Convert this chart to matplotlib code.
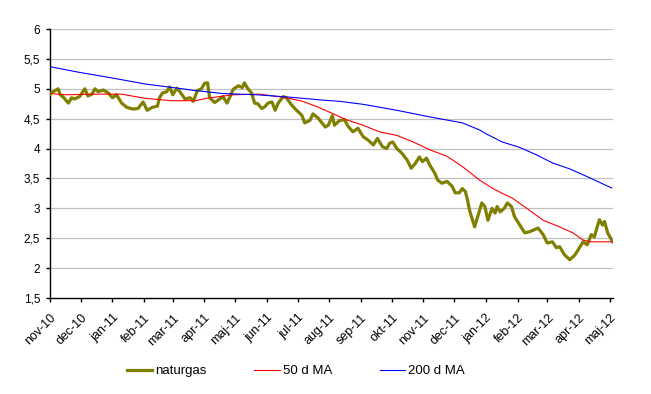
import matplotlib
matplotlib.use("Agg")
import matplotlib.pyplot as plt
import matplotlib.transforms as mtransforms
import pandas as pd

plt.rcParams['font.family'] = ['Liberation Sans', 'DejaVu Sans']

# ---- data ----
gas_dates = [
    "2010-11-01", "2010-11-04", "2010-11-09", "2010-11-11", "2010-11-14", "2010-11-19",
    "2010-11-22", "2010-11-25", "2010-11-30", "2010-12-05", "2010-12-08", "2010-12-12",
    "2010-12-15", "2010-12-18", "2010-12-23", "2010-12-28", "2011-01-01", "2011-01-05",
    "2011-01-10", "2011-01-15", "2011-01-21", "2011-01-26", "2011-01-31", "2011-02-04",
    "2011-02-09", "2011-02-14", "2011-02-16", "2011-02-19", "2011-02-23", "2011-02-26",
    "2011-03-01", "2011-03-05", "2011-03-08", "2011-03-13", "2011-03-18", "2011-03-21",
    "2011-03-25", "2011-03-29", "2011-04-01", "2011-04-04", "2011-04-06", "2011-04-11",
    "2011-04-16", "2011-04-19", "2011-04-23", "2011-04-26", "2011-04-29", "2011-05-04",
    "2011-05-08", "2011-05-10", "2011-05-13", "2011-05-17", "2011-05-20", "2011-05-23",
    "2011-05-27", "2011-05-30", "2011-06-02", "2011-06-06", "2011-06-09", "2011-06-12",
    "2011-06-17", "2011-06-20", "2011-06-25", "2011-06-30", "2011-07-05", "2011-07-08",
    "2011-07-13", "2011-07-16", "2011-07-21", "2011-07-28", "2011-07-31", "2011-08-04",
    "2011-08-06", "2011-08-11", "2011-08-16", "2011-08-19", "2011-08-24", "2011-08-29",
    "2011-09-03", "2011-09-08", "2011-09-13", "2011-09-17", "2011-09-22", "2011-09-26",
    "2011-09-29", "2011-10-02", "2011-10-06", "2011-10-11", "2011-10-16", "2011-10-20",
    "2011-10-24", "2011-10-28", "2011-10-31", "2011-11-04", "2011-11-07", "2011-11-12",
    "2011-11-15", "2011-11-19", "2011-11-24", "2011-11-29", "2011-12-02", "2011-12-06",
    "2011-12-09", "2011-12-12", "2011-12-14", "2011-12-16", "2011-12-21", "2011-12-24",
    "2011-12-28", "2011-12-31", "2012-01-03", "2012-01-07", "2012-01-10", "2012-01-12",
    "2012-01-15", "2012-01-19", "2012-01-22", "2012-01-26", "2012-01-29", "2012-02-01",
    "2012-02-05", "2012-02-08", "2012-02-13", "2012-02-21", "2012-02-26", "2012-03-01",
    "2012-03-06", "2012-03-10", "2012-03-13", "2012-03-18", "2012-03-23", "2012-03-28",
    "2012-03-31", "2012-04-05", "2012-04-09", "2012-04-13", "2012-04-16", "2012-04-19",
    "2012-04-21", "2012-04-24", "2012-04-26", "2012-04-29", "2012-05-04",
]
gas_values = [
    4.91, 4.95, 5.00, 4.90, 4.86, 4.76,
    4.85, 4.83, 4.87, 5.00, 4.88, 4.91,
    5.00, 4.95, 4.98, 4.93, 4.85, 4.90,
    4.76, 4.69, 4.66, 4.67, 4.78, 4.64,
    4.69, 4.71, 4.85, 4.93, 4.95, 5.03,
    4.90, 5.01, 4.95, 4.83, 4.85, 4.79,
    4.97, 5.00, 5.09, 5.10, 4.85, 4.77,
    4.83, 4.87, 4.76, 4.87, 4.99, 5.05,
    5.02, 5.10, 5.01, 4.93, 4.76, 4.75,
    4.67, 4.70, 4.76, 4.78, 4.64, 4.76,
    4.87, 4.85, 4.73, 4.64, 4.56, 4.43,
    4.47, 4.58, 4.51, 4.36, 4.39, 4.55,
    4.39, 4.47, 4.48, 4.38, 4.28, 4.34,
    4.20, 4.14, 4.06, 4.17, 4.03, 4.00,
    4.09, 4.11, 4.00, 3.92, 3.81, 3.67,
    3.75, 3.86, 3.78, 3.84, 3.73, 3.59,
    3.47, 3.42, 3.45, 3.37, 3.26, 3.26,
    3.33, 3.28, 3.14, 2.97, 2.69, 2.86,
    3.09, 3.03, 2.80, 3.00, 2.92, 3.03,
    2.94, 3.00, 3.09, 3.03, 2.86, 2.78,
    2.67, 2.59, 2.61, 2.67, 2.56, 2.42,
    2.44, 2.34, 2.36, 2.22, 2.14, 2.22,
    2.30, 2.44, 2.39, 2.56, 2.52, 2.70,
    2.81, 2.72, 2.78, 2.59, 2.44,
]

ma50_dates = [
    "2010-11-01", "2010-11-16", "2010-12-15", "2011-01-10", "2011-02-02", "2011-02-28",
    "2011-03-23", "2011-04-03", "2011-04-29", "2011-05-25", "2011-06-20", "2011-07-06",
    "2011-07-20", "2011-08-01", "2011-08-18", "2011-09-03", "2011-09-19", "2011-10-06",
    "2011-10-22", "2011-11-07", "2011-11-24", "2011-12-09", "2011-12-26", "2012-01-08",
    "2012-01-17", "2012-01-27", "2012-02-10", "2012-02-26", "2012-03-13", "2012-03-26",
    "2012-04-05", "2012-04-12", "2012-05-03",
]
ma50_values = [
    4.92, 4.90, 4.91, 4.91, 4.84, 4.80,
    4.80, 4.84, 4.90, 4.91, 4.85, 4.79,
    4.70, 4.61, 4.48, 4.39, 4.28, 4.22,
    4.11, 3.98, 3.87, 3.70, 3.47, 3.33,
    3.25, 3.17, 3.00, 2.80, 2.69, 2.59,
    2.47, 2.44, 2.44,
]

ma200_dates = [
    "2010-11-01", "2010-11-28", "2011-01-01", "2011-02-02", "2011-03-06", "2011-03-23",
    "2011-04-19", "2011-05-22", "2011-06-23", "2011-07-26", "2011-08-11", "2011-09-03",
    "2011-10-06", "2011-11-07", "2011-12-09", "2011-12-26", "2012-01-02", "2012-01-17",
    "2012-02-03", "2012-02-20", "2012-03-06", "2012-03-23", "2012-04-09", "2012-05-03",
]
ma200_values = [
    5.37, 5.28, 5.18, 5.08, 5.01, 4.97,
    4.92, 4.90, 4.86, 4.81, 4.79, 4.74,
    4.64, 4.53, 4.43, 4.31, 4.24, 4.11,
    4.02, 3.89, 3.76, 3.66, 3.53, 3.34,
]

tick_dates = pd.date_range("2010-11-01", "2012-05-01", freq="MS")
tick_labels = ["nov-10", "dec-10", "jan-11", "feb-11", "mar-11", "apr-11", "maj-11",
               "jun-11", "jul-11", "aug-11", "sep-11", "okt-11", "nov-11", "dec-11",
               "jan-12", "feb-12", "mar-12", "apr-12", "maj-12"]
y_ticks = [1.5, 2, 2.5, 3, 3.5, 4, 4.5, 5, 5.5, 6]
series_names = ["naturgas", "50 d MA", "200 d MA"]

# ---- figure ----
fig = plt.figure(figsize=(6.51, 3.94), dpi=100)
ax = fig.add_axes([50/651, 1-298/394, (613-50)/651, (298-29)/394])

ax.plot(pd.to_datetime(gas_dates), gas_values, color="#808000", lw=2.3,
        label=series_names[0], zorder=3, solid_joinstyle="round")
ax.plot(pd.to_datetime(ma50_dates), ma50_values, color="#FF0000", lw=0.8,
        label=series_names[1], zorder=4)
ax.plot(pd.to_datetime(ma200_dates), ma200_values, color="#0000FF", lw=0.8,
        label=series_names[2], zorder=5)

ax.set_ylim(1.5, 6)
ax.set_yticks(y_ticks)
ax.set_yticklabels([("%g" % v).replace(".", ",") for v in y_ticks], fontsize=8.5)
ax.set_xlim(pd.Timestamp("2010-11-01"), pd.Timestamp("2012-05-04 06:00"))
ax.set_xticks(tick_dates)
ax.set_xticklabels(tick_labels, fontsize=9, rotation=45, ha="right",
                   va="top", rotation_mode="anchor")
shift = mtransforms.ScaledTranslation(-4.5 / 100, 0, fig.dpi_scale_trans)
for lbl in ax.get_xticklabels():
    lbl.set_transform(lbl.get_transform() + shift)

for v in y_ticks[1:]:
    ax.axhline(v, color="#C0C0C0", lw=0.9, zorder=1)

for s in ["top", "right"]:
    ax.spines[s].set_visible(False)
for s in ["left", "bottom"]:
    ax.spines[s].set_color("black")
    ax.spines[s].set_linewidth(1.0)
ax.tick_params(axis="both", direction="out", length=3, width=1, color="black",
               labelcolor="black")
ax.tick_params(axis="y", pad=4)
ax.tick_params(axis="x", pad=7)

fig.legend(loc="center", bbox_to_anchor=(296/651, 1-371/394), ncol=3,
           frameon=False, fontsize=9.5, handlelength=1.9, handletextpad=0.25,
           columnspacing=3.6)

fig.savefig("out.png", dpi=100)
